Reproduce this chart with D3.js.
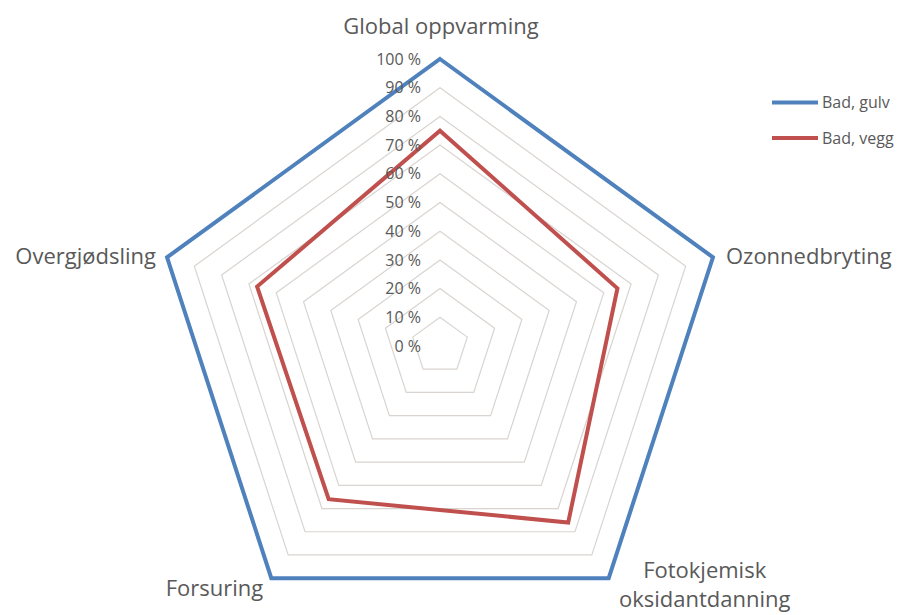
<!DOCTYPE html>
<html><head><meta charset="utf-8">
<script src="https://cdn.jsdelivr.net/npm/d3@7"></script>
<style>
body{margin:0;background:#fff;}
text{font-family:"Open Sans",sans-serif;fill:#595959;}
</style></head>
<body><svg id="c" width="899" height="615"></svg>
<script>
const categories = ["Global oppvarming","Ozonnedbryting","Fotokjemisk\noksidantdanning","Forsuring","Overgjødsling"];
const seriesNames = ["Bad, gulv","Bad, vegg"];
const gulv = [100,100,100,100,100];
const vegg = [75,65,76,66,67];
const tickValues = [0,10,20,30,40,50,60,70,80,90,100];
const colors = ["#4f81bd","#c0504d"];

const svg = d3.select("#c");
const cx = 440, cy = 346, R = 287;
const r = d3.scaleLinear().domain([0,100]).range([0,R]);
const n = categories.length;
const ang = d3.scaleLinear().domain([0,n]).range([0,2*Math.PI]);
const pt = (i,v)=>[cx + r(v)*Math.sin(ang(i)), cy - r(v)*Math.cos(ang(i))];
const line = d3.line().curve(d3.curveLinearClosed);

// grid rings
svg.append("g").selectAll("path").data(tickValues.filter(t=>t>0)).join("path")
  .attr("d", t=>line(d3.range(n).map(i=>pt(i,t))))
  .attr("fill","none").attr("stroke","#d9d4d0").attr("stroke-width",1.2);

// series
[gulv,vegg].forEach((s,k)=>{
  svg.append("path").attr("d", line(s.map((v,i)=>pt(i,v))))
    .attr("fill","none").attr("stroke",colors[k]).attr("stroke-width",4)
    .attr("stroke-linejoin","miter");
});

// tick labels
svg.append("g").selectAll("text").data(tickValues).join("text")
  .attr("x", cx-19).attr("y", t=>cy-r(t))
  .attr("dy","0.35em").attr("text-anchor","end")
  .attr("font-size",16).text(t=>t+" %");

// category labels
const labelCfg = [
  {anchor:"middle", dx:1, dy:-25},
  {anchor:"start", dx:13, dy:7},
  {anchor:"middle", dx:96, dy:0},
  {anchor:"end", dx:-8, dy:18},
  {anchor:"end", dx:-11, dy:7}
];
categories.forEach((c,i)=>{
  const [x,y] = pt(i,100);
  const lines = c.split("\n");
  const t = svg.append("text").attr("text-anchor",labelCfg[i].anchor)
    .attr("font-size",22);
  lines.forEach((l,j)=>{
    t.append("tspan").attr("x", x+labelCfg[i].dx)
     .attr("y", y+labelCfg[i].dy + (i===2? j*29: 0)).text(l);
  });
});

// legend
const lg = svg.append("g");
seriesNames.forEach((s,k)=>{
  const y = 102.5 + k*35.5;
  lg.append("line").attr("x1",772).attr("x2",818).attr("y1",y).attr("y2",y)
    .attr("stroke",colors[k]).attr("stroke-width",4);
  lg.append("text").attr("x",822).attr("y",y).attr("dy","0.35em")
    .attr("font-size",16).text(s);
});
</script></body></html>
